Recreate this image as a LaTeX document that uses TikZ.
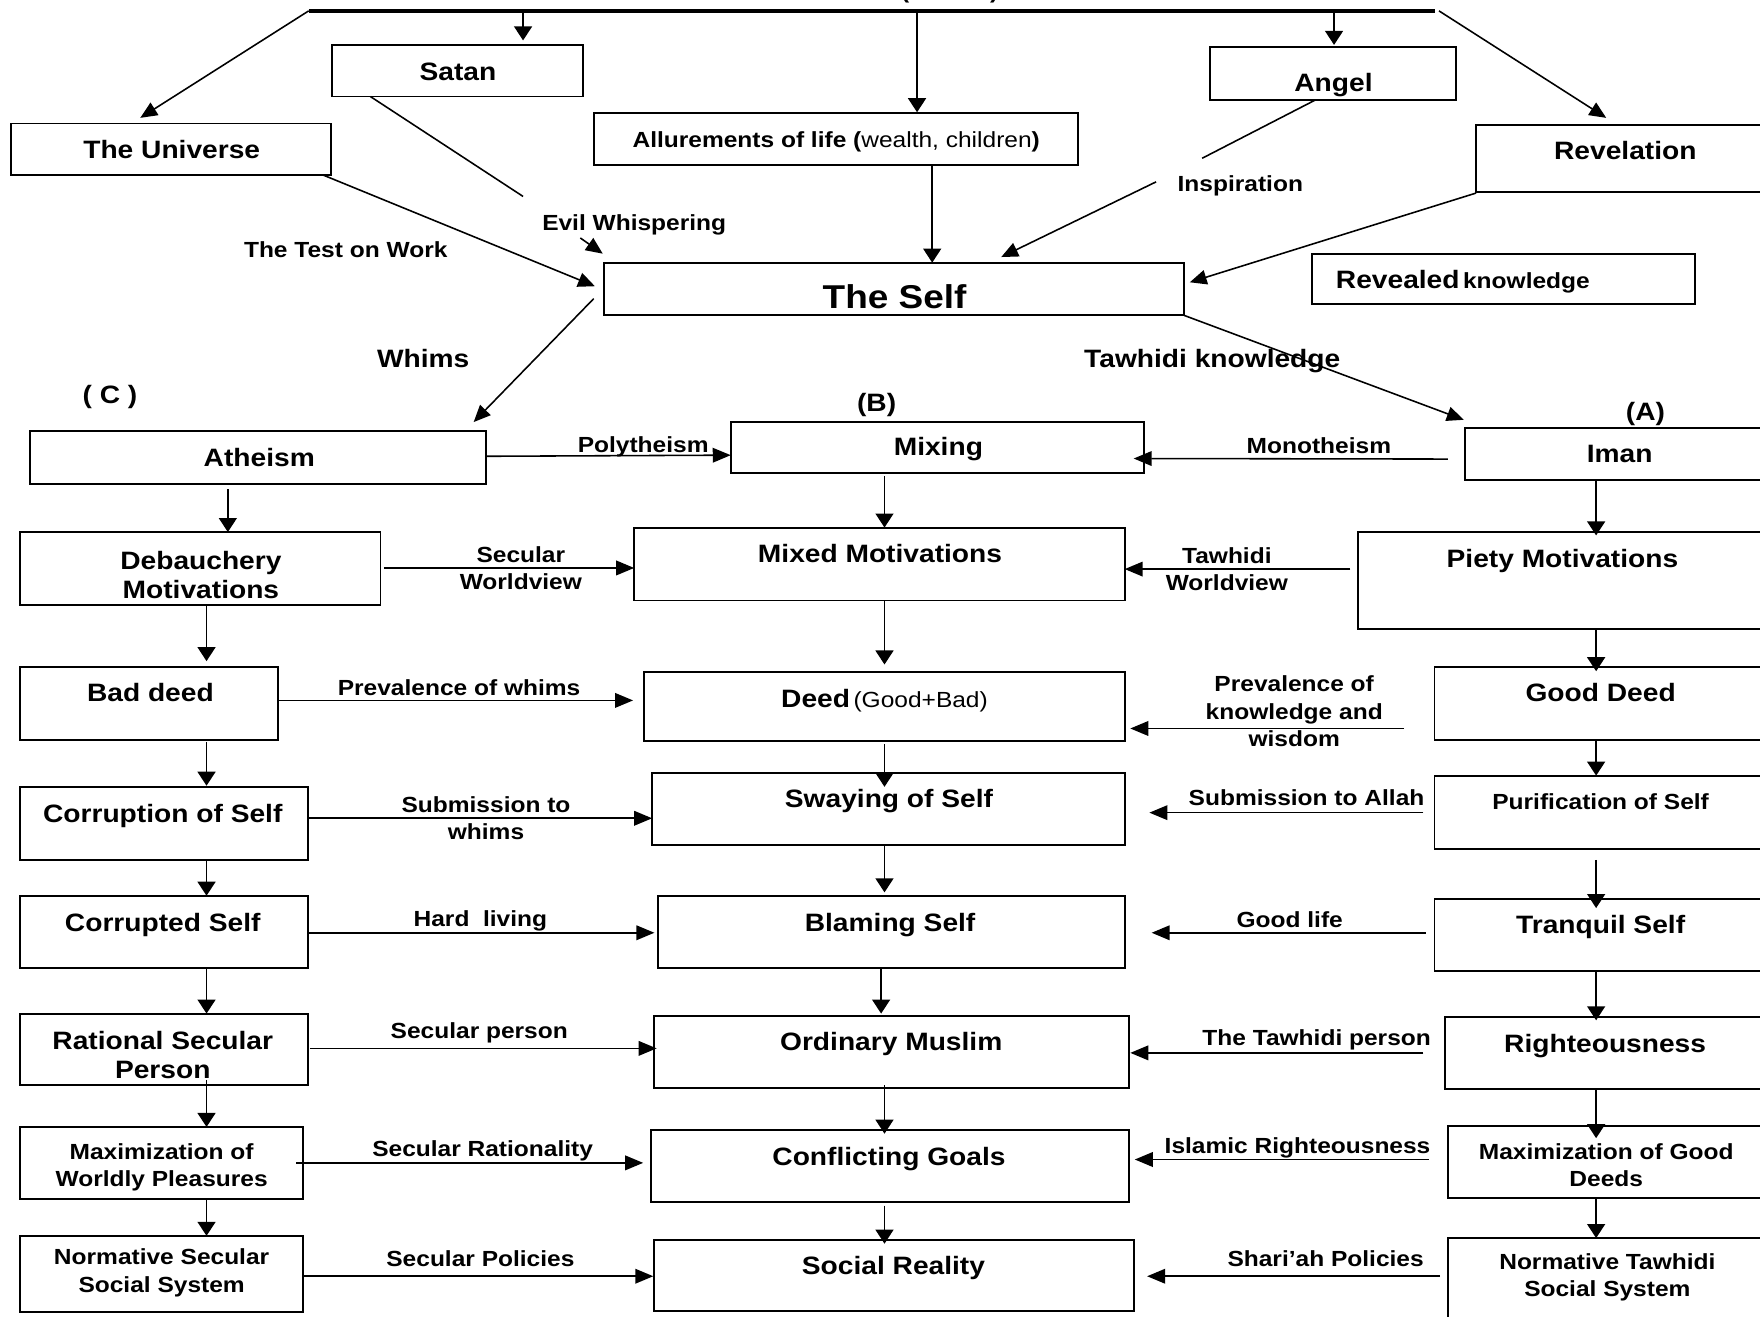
\documentclass[tikz,border=0pt]{standalone}
\usepackage{fontspec}
\setmainfont{Liberation Sans}[FakeStretch=1.12]
\usetikzlibrary{arrows.meta,calc}
\newcommand\ftM{\fontsize{22.4}{25.5}\selectfont\bfseries}
\newcommand\ftL{\fontsize{19.5}{24.5}\selectfont\bfseries}
\newcommand\ftS{\fontsize{29.4}{34}\selectfont\bfseries}
\newcommand\ftR{\fontsize{19.5}{24.5}\selectfont\mdseries}
\newcommand\mkbox[5]{\node[bx, minimum width={#4pt-#2pt}, minimum height={#5pt-#3pt}] (#1) at ({(#2+#4)/2},{(#3+#5)/2}) {};}
\tikzset{
  bx/.style={draw, line width=1.7pt, inner sep=0pt, outer sep=0pt},
  tx/.style={inner sep=0pt, align=center, text=black, yshift=-2pt},
  ln/.style={line width=1.4pt},
  ha/.style={ln, -{Triangle[length=16pt,width=13pt]}},
  va/.style={ln, -{Triangle[length=12.5pt,width=16pt]}},
  da/.style={ln, -{Triangle[length=15pt,width=13pt]}},
}
\begin{document}
\begin{tikzpicture}[x=1pt,y=-1pt]
\useasboundingbox (0,0) rectangle (1568,1173);
\fill[white] (0,0) rectangle (1568,1173);
\clip (0,0) rectangle (1568,1173);

% ---------- boxes ----------
\mkbox{satan}{296}{40}{519}{86}
\mkbox{universe}{10}{110}{295}{156}
\mkbox{allure}{529}{101}{960}{147}
\mkbox{angel}{1078}{42}{1297}{89}
\mkbox{revelation}{1315}{111}{1600}{171}
\mkbox{self}{538}{234}{1055}{281}
\mkbox{revk}{1169}{226}{1510}{271}

\mkbox{atheism}{27}{384}{433}{431}
\mkbox{mixing}{651}{376}{1019}{421}
\mkbox{iman}{1305}{381}{1600}{428}

\mkbox{debauch}{18}{474}{339}{539}
\mkbox{mixed}{565}{470}{1002}{535}
\mkbox{piety}{1210}{474}{1600}{560}

\mkbox{bad}{18}{594}{248}{659}
\mkbox{deed}{574}{599}{1002}{660}
\mkbox{good}{1278}{594}{1600}{659}

\mkbox{corruption}{18}{701}{274}{766}
\mkbox{swaying}{581}{689}{1002}{753}
\mkbox{purif}{1278}{691}{1600}{756}

\mkbox{corrupted}{18}{798}{274}{862}
\mkbox{blaming}{586}{798}{1002}{862}
\mkbox{tranq}{1278}{801}{1600}{865}

\mkbox{rational}{18}{903}{274}{967}
\mkbox{ordinary}{583}{905}{1006}{969}
\mkbox{righteous}{1287}{906}{1600}{970}

\mkbox{maxw}{18}{1004}{270}{1068}
\mkbox{confl}{580}{1007}{1006}{1071}
\mkbox{maxg}{1290}{1003}{1600}{1067}

\mkbox{normsec}{18}{1101}{270}{1169}
\mkbox{social}{583}{1105}{1010}{1168}
\mkbox{normtaw}{1290}{1103}{1600}{1190}

% ---------- top bar ----------
\coordinate (barL) at (275,9.7);
\coordinate (barR) at (1278,9.7);
\draw[line width=3.4pt] (barL) -- (barR);
\node[inner sep=0pt, font=\ftL, anchor=base] (topnote) at (846,-1.7) {(\hspace{72pt})};

\draw[da] (barL) -- ($(universe.north west)+(115,-5)$);
\draw[da] ($(barR)+(4,0)$) -- ($(revelation.north west)+(116,-6)$);
\draw[va, shorten >=4pt] (barL -| 466,0) -- (satan.north -| 466,0);
\draw[va, shorten >=1pt] (barL -| 817,0) -- (allure.north -| 817,0);
\draw[va, shorten >=2pt] (barL -| 1188.5,0) -- (angel.north -| 1188.5,0);

% ---------- into the Self ----------
\draw[da] ($(universe.south east)+(-7,0)$) -- ($(self.west)+(-8,-2.5)$);
\coordinate (ew1) at (466,175);
\coordinate (ew2) at (517,212);
\draw[ln] ($(satan.south west)+(34,0)$) -- (ew1);
\draw[da] (ew2) -- ($(self.north west)+(-1,-8)$);
\draw[va] (allure.south -| 830.5,0) -- (self.north -| 830.5,0);
\coordinate (in1) at (1071,141);
\coordinate (in2) at (1030,162);
\draw[ln] ($(angel.south west)+(94,0)$) -- (in1);
\draw[da] (in2) -- ($(self.north west)+(354,-5)$);
\draw[da] ($(revelation.south west)+(0,1)$) -- ($(self.east)+(5,-6)$);

% ---------- out of the Self ----------
\draw[da] ($(self.west)+(-9,8.5)$) -- ($(atheism.north east)+(-11,-8)$);
\draw[da] (self.south east) -- ($(iman.north west)+(-1,-7)$);

% ---------- vertical arrows ----------
% left column
\draw[va, shorten <=5pt] (atheism.south -| 203,0) -- (debauch.north -| 203,0);
\draw[va, shorten >=5pt] (debauch.south -| 184,0) -- (bad.north -| 184,0);
\draw[va, shorten <=2pt, shorten >=1pt] (bad.south -| 184,0) -- (corruption.north -| 184,0);
\draw[va] (corruption.south -| 184,0) -- (corrupted.north -| 184,0);
\draw[va] (corrupted.south -| 184,0) -- (rational.north -| 184,0);
\draw[va, shorten <=-5pt] (rational.south -| 184,0) -- (maxw.north -| 184,0);
\draw[va] (maxw.south -| 184,0) -- (normsec.north -| 184,0);
% centre column
\draw[va, shorten <=3pt] (mixing.south -| 788,0) -- (mixed.north -| 788,0);
\draw[va, shorten >=7pt] (mixed.south -| 788,0) -- (deed.north -| 788,0);
\draw[va, shorten <=3pt, shorten >=-12pt] (deed.south -| 788,0) -- (swaying.north -| 788,0);
\draw[va, shorten >=3pt] (swaying.south -| 788,0) -- (blaming.north -| 788,0);
\draw[va, shorten >=2pt] (blaming.south -| 785,0) -- (ordinary.north -| 785,0);
\draw[va, shorten <=-2pt, shorten >=-3pt] (ordinary.south -| 788,0) -- (confl.north -| 788,0);
\draw[va, shorten <=3pt, shorten >=-3pt] (confl.south -| 788,0) -- (social.north -| 788,0);
% right column
\draw[va, shorten >=-3pt] (iman.south -| 1422,0) -- (piety.north -| 1422,0);
\draw[va, shorten >=-4pt] (piety.south -| 1422,0) -- (good.north -| 1422,0);
\draw[va] (good.south -| 1422,0) -- (purif.north -| 1422,0);
\draw[va, shorten <=10pt, shorten >=-8pt] (purif.south -| 1422,0) -- (tranq.north -| 1422,0);
\draw[va, shorten >=-3pt] (tranq.south -| 1422,0) -- (righteous.north -| 1422,0);
\draw[va, shorten >=-11pt] (righteous.south -| 1422,0) -- (maxg.north -| 1422,0);
\draw[va] (maxg.south -| 1422,0) -- (normtaw.north -| 1422,0);

% ---------- horizontal arrows ----------
\draw[ha] (atheism.east |- 0,406.5) -- (mixing.west |- 0,405.5);
\draw[ha, shorten <=15pt, shorten >=-9pt] (iman.west |- 0,409) -- (mixing.east |- 0,408.5);
\draw[ha, shorten <=3pt] (debauch.east |- 0,506) -- (mixed.west |- 0,506);
\draw[ha, shorten <=7pt] (piety.west |- 0,507) -- (mixed.east |- 0,507);
\draw[ha, shorten >=10pt] (bad.east |- 0,624) -- (deed.west |- 0,624);
\draw[ha, shorten <=27pt, shorten >=5pt] (good.west |- 0,649) -- (deed.east |- 0,649);
\draw[ha, shorten <=1pt] (corruption.east |- 0,729) -- (swaying.west |- 0,729);
\draw[ha, shorten <=10pt, shorten >=22pt] (purif.west |- 0,724) -- (swaying.east |- 0,724);
\draw[ha, shorten <=1pt, shorten >=3pt] (corrupted.east |- 0,831) -- (blaming.west |- 0,831);
\draw[ha, shorten <=8pt, shorten >=24pt] (tranq.west |- 0,831) -- (blaming.east |- 0,831);
\draw[ha, shorten <=2pt, shorten >=-2pt] (rational.east |- 0,934) -- (ordinary.west |- 0,934);
\draw[ha, shorten <=19pt, shorten >=1pt] (righteous.west |- 0,938) -- (ordinary.east |- 0,938);
\draw[ha, shorten <=-6pt, shorten >=7pt] (maxw.east |- 0,1036) -- (confl.west |- 0,1036);
\draw[ha, shorten <=17pt, shorten >=5pt] (maxg.west |- 0,1033) -- (confl.east |- 0,1033);
\draw[ha, shorten >=1pt] (normsec.east |- 0,1137) -- (social.west |- 0,1137);
\draw[ha, shorten <=7pt, shorten >=12pt] (normtaw.west |- 0,1137) -- (social.east |- 0,1137);

% ---------- box texts ----------
\node[tx, font=\ftM] (satan-t) at (408,62) {Satan};
\node[tx, font=\ftM] (universe-t) at (153,131) {The Universe};
\node[tx] (allure-t) at (745,124) {{\ftL Allurements of life (}{\ftR wealth, children}{\ftL )}};
\node[tx, font=\ftM] (angel-t) at (1188,74) {Angel};
\node[tx, font=\ftM] (revelation-t) at (1448,132) {Revelation};
\node[tx, anchor=west] (revk-t) at (1190,249) {{\ftM Revealed} {\ftL knowledge}};
\node[tx, font=\ftS] (self-t) at (797,262) {The Self};

\node[tx, font=\ftM] (atheism-t) at (231,406) {Atheism};
\node[tx, font=\ftM] (mixing-t) at (836,398) {Mixing};
\node[tx, font=\ftM] (iman-t) at (1443,402) {Iman};

\node[tx, font=\ftM] (debauch-t) at (179,510) {Debauchery\\Motivations};
\node[tx, font=\ftM] (mixed-t) at (784,491) {Mixed Motivations};
\node[tx, font=\ftM] (piety-t) at (1392,498) {Piety Motivations};

\node[tx, font=\ftM] (bad-t) at (134,615) {Bad deed};
\node[tx] (deed-t) at (788,622) {{\ftM Deed} {\ftR (Good+Bad)}};
\node[tx, font=\ftM] (good-t) at (1426,615) {Good Deed};

\node[tx, font=\ftM] (corruption-t) at (145,725) {Corruption of Self};
\node[tx, font=\ftM] (swaying-t) at (792,712) {Swaying of Self};
\node[tx, font=\ftL] (purif-t) at (1426,712) {Purification of Self};

\node[tx, font=\ftM] (corrupted-t) at (145,822) {Corrupted Self};
\node[tx, font=\ftM] (blaming-t) at (793,822) {Blaming Self};
\node[tx, font=\ftM] (tranq-t) at (1426,824) {Tranquil Self};

\node[tx, font=\ftM] (rational-t) at (145,938) {Rational Secular\\Person};
\node[tx, font=\ftM] (ordinary-t) at (794,928) {Ordinary Muslim};
\node[tx, font=\ftM] (righteous-t) at (1430,930) {Righteousness};

\node[tx, font=\ftL] (maxw-t) at (144,1038) {Maximization of\\Worldly Pleasures};
\node[tx, font=\ftM] (confl-t) at (792,1031) {Conflicting Goals};
\node[tx, font=\ftL] (maxg-t) at (1431,1036) {Maximization of Good\\Deeds};

\node[tx, font=\ftL] (normsec-t) at (144,1132) {Normative Secular\\Social System};
\node[tx, font=\ftM] (social-t) at (796,1128) {Social Reality};
\node[tx, font=\ftL] (normtaw-t) at (1432,1136) {Normative Tawhidi\\Social System};

% ---------- connector labels ----------
\node[tx, font=\ftL] (lab-test) at (308,220) {The Test on Work};
\node[tx, font=\ftL] (lab-evil) at (565,198) {Evil Whispering};
\node[tx, font=\ftL] (lab-insp) at (1105,164) {Inspiration};
\node[tx, font=\ftM] (lab-whims) at (377,317) {Whims};
\node[tx, font=\ftM] (lab-tk) at (1080,320) {Tawhidi knowledge};
\node[tx, font=\ftM] (lab-C) at (98,352) {( C )};
\node[tx, font=\ftM] (lab-B) at (781,359) {(B)};
\node[tx, font=\ftM] (lab-A) at (1466,367) {(A)};
\node[tx, font=\ftL] (lab-poly) at (573,396) {Polytheism};
\node[tx, font=\ftL] (lab-mono) at (1175,395) {Monotheism};
\node[tx, font=\ftL] (lab-secw) at (464,504) {Secular\\Worldview};
\node[tx, font=\ftL] (lab-tawh) at (1093,505) {Tawhidi\\Worldview};
\node[tx, font=\ftL] (lab-pw) at (409,611) {Prevalence of whims};
\node[tx, font=\ftL] (lab-pk) at (1153,632) {Prevalence of\\knowledge and\\wisdom};
\node[tx, font=\ftL] (lab-sw) at (433,727) {Submission to\\whims};
\node[tx, font=\ftL] (lab-sa) at (1164,709) {Submission to Allah};
\node[tx, font=\ftL] (lab-hl) at (428,818) {Hard\ \ living};
\node[tx, font=\ftL] (lab-gl) at (1149,817) {Good life};
\node[tx, font=\ftL] (lab-sp) at (427,918) {Secular person};
\node[tx, font=\ftL] (lab-tp) at (1173,924) {The Tawhidi person};
\node[tx, font=\ftL] (lab-sr) at (430,1023) {Secular Rationality};
\node[tx, font=\ftL] (lab-ir) at (1156,1021) {Islamic Righteousness};
\node[tx, font=\ftL] (lab-sec) at (428,1119) {Secular Policies};
\node[tx, font=\ftL] (lab-sh) at (1181,1119) {Shari’ah Policies};
\end{tikzpicture}
\end{document}
